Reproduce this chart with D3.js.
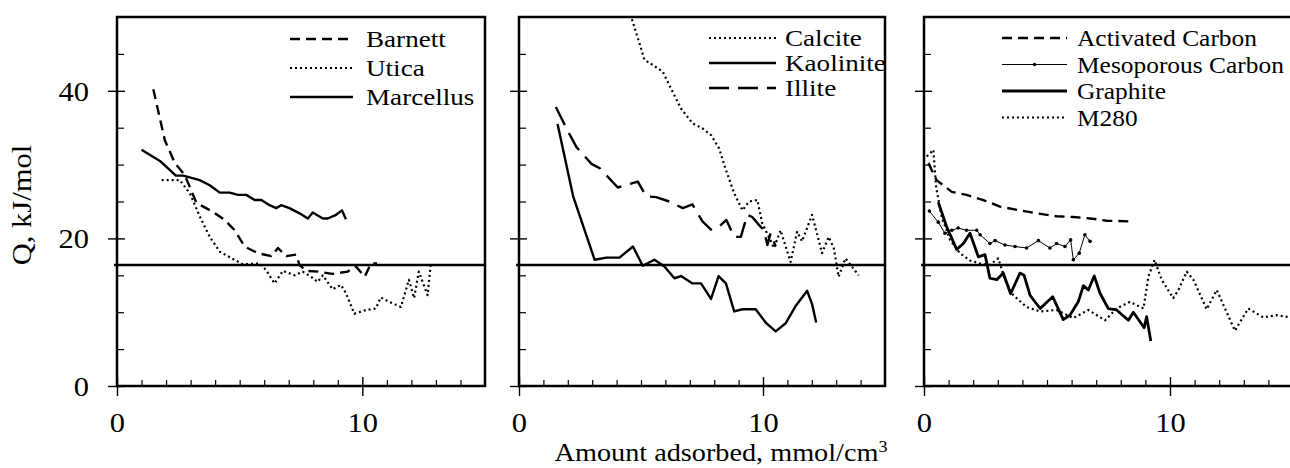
<!DOCTYPE html>
<html>
<head>
<meta charset="utf-8">
<script src="https://cdn.jsdelivr.net/npm/d3@7"></script>
<style>
  html, body { margin: 0; padding: 0; background: #fff; }
  svg { display: block; font-family: "Liberation Serif", "Times New Roman", serif; }
</style>
</head>
<body>
<svg id="chart" width="1290" height="468"></svg>
<script>
// ---- data: [amount adsorbed, Q] ----
const barnett = [[1.48,40.2],[1.95,33.3],[2.36,30.2],[2.76,28.6],[3.24,24.8],[3.91,23.6],[4.39,22.5],[4.8,21.1],[5.2,18.9],[5.74,18.0],[6.29,17.6],[6.56,18.7],[6.9,17.6],[7.3,17.8],[7.44,16.4],[7.71,15.6],[8.2,15.5],[8.78,15.2],[9.4,15.5],[9.74,16.2],[10.1,14.8],[10.35,16.6],[10.6,16.6]];
const utica = [[1.82,27.9],[2.56,27.9],[2.97,26.1],[3.37,23.0],[3.78,20.2],[4.19,18.2],[4.73,17.2],[5.13,16.5],[5.81,16.6],[6.08,15.7],[6.42,13.9],[6.76,15.6],[7.24,15.0],[7.57,15.5],[7.91,14.8],[8.18,14.1],[8.39,15.0],[8.79,13.1],[9.13,13.7],[9.33,12.6],[9.67,9.8],[10.15,10.3],[10.55,10.5],[10.75,12.0],[11.1,11.4],[11.57,10.7],[11.9,14.4],[12.11,11.9],[12.3,15.5],[12.66,12.3],[12.79,16.6]];
const marcellus = [[1.0,32.0],[1.75,30.5],[2.4,28.5],[2.7,28.5],[3.37,27.9],[3.78,27.2],[4.19,26.2],[4.59,26.2],[4.93,25.9],[5.27,25.9],[5.61,25.2],[5.88,25.2],[6.22,24.5],[6.49,24.1],[6.69,24.5],[7.03,24.1],[7.44,23.4],[7.78,22.7],[7.98,23.5],[8.39,22.7],[8.59,22.7],[8.93,23.2],[9.17,23.8],[9.33,22.6]];

const calcite = [[4.4,53],[4.6,50.0],[4.94,46.4],[5.14,44.2],[5.48,43.5],[5.89,42.6],[6.23,40.3],[6.64,37.6],[7.11,35.6],[7.52,34.9],[7.87,34.0],[8.2,32.2],[8.48,29.3],[8.82,26.1],[9.16,23.8],[9.43,25.0],[9.77,25.2],[9.97,22.0],[10.24,20.2],[10.45,18.7],[10.72,21.1],[11.13,16.8],[11.4,20.9],[11.6,19.6],[12.01,23.2],[12.42,18.0],[12.69,20.2],[12.9,18.7],[13.1,14.8],[13.38,17.3],[13.92,15.0]];
const kaolinite = [[1.58,35.5],[2.22,25.7],[3.1,17.1],[3.58,17.4],[4.12,17.4],[4.67,18.9],[5.07,16.3],[5.55,17.1],[5.96,16.2],[6.37,14.6],[6.64,14.9],[7.11,13.9],[7.46,13.9],[7.87,11.8],[8.18,14.9],[8.48,13.9],[8.82,10.1],[9.16,10.4],[9.7,10.4],[10.11,8.6],[10.52,7.4],[10.93,8.5],[11.33,10.8],[11.81,12.9],[12.01,11.1],[12.18,8.6]];
const illite = [[1.51,37.8],[2.01,34.5],[2.35,32.4],[2.97,30.1],[3.31,29.5],[4.05,26.9],[4.87,27.7],[5.21,25.7],[5.62,25.6],[6.16,25.0],[6.71,24.1],[7.11,24.6],[7.52,22.3],[7.87,21.2],[8.2,21.6],[8.5,22.5],[8.82,20.2],[9.09,20.2],[9.36,23.2],[9.56,22.9],[9.84,21.8],[10.04,21.1],[10.18,19.1],[10.31,20.7],[10.52,18.9]];

const activatedCarbon = [[0.18,30.2],[0.51,27.9],[1.13,26.3],[1.73,25.9],[2.41,25.2],[3.09,24.3],[3.9,23.8],[4.58,23.4],[5.39,23.0],[6.07,22.9],[6.75,22.7],[7.43,22.4],[8.37,22.3]];
const mesoporousCarbon = [[0.22,23.7],[0.58,22.2],[0.85,20.7],[1.13,21.1],[1.39,21.4],[1.73,21.1],[2.14,21.1],[2.28,20.5],[2.68,19.3],[2.89,19.7],[3.29,19.1],[3.7,18.9],[4.17,18.7],[4.65,19.7],[5.12,18.7],[5.39,19.3],[5.73,18.9],[5.96,19.8],[6.07,17.1],[6.31,18.0],[6.54,20.5],[6.75,19.6]];
const graphite = [[0.58,24.9],[0.92,21.6],[1.33,18.5],[1.6,19.3],[1.87,20.7],[2.21,17.5],[2.48,17.8],[2.68,14.6],[2.96,14.4],[3.22,15.3],[3.52,12.5],[3.9,15.3],[4.07,15.0],[4.31,12.3],[4.72,10.5],[5.23,12.1],[5.66,9.0],[5.93,9.6],[6.27,11.4],[6.48,13.6],[6.68,13.0],[6.92,14.9],[7.15,12.6],[7.49,10.5],[7.83,10.3],[8.31,8.9],[8.51,10.0],[8.95,7.9],[9.05,9.4],[9.22,6.1]];
const m280 = [[0.11,31.1],[0.24,31.5],[0.38,32.0],[0.49,27.0],[0.72,22.9],[1.06,19.8],[1.46,18.0],[1.87,17.0],[2.28,16.6],[2.68,16.4],[3.02,17.3],[3.29,14.4],[3.63,12.3],[4.17,10.7],[4.72,10.1],[5.39,10.3],[6.07,9.2],[6.68,10.3],[7.36,8.9],[7.83,10.5],[8.37,11.4],[8.92,10.5],[9.12,14.8],[9.37,17.1],[9.66,14.4],[10.13,11.9],[10.34,13.0],[10.68,15.5],[10.95,14.4],[11.49,10.4],[11.9,13.0],[12.64,7.5],[13.18,10.5],[13.79,9.3],[14.34,9.6],[14.88,9.3]];

const referenceQ = 16.4;
const xMajorTicks = [0, 10];
const xMinorTicks = [1, 2, 3, 4, 5, 6, 7, 8, 9, 11, 12, 13, 14];
const yMajorTicks = [0, 20, 40];
const yMinorTicks = [5, 10, 15, 25, 30, 35, 45];

// line styles
const styles = {
  dash:     { dash: "10,6", width: 2.4 },
  dot:      { dash: "2,3", width: 2.2 },
  solid:    { dash: null, width: 2.4 },
  longdash: { dash: "20,9", width: 2.4 },
  thin:     { dash: null, width: 1, dots: true },
  thick:    { dash: null, width: 2.8 }
};

const panels = [
  { left: 117, width: 368, yLabels: true, legend: { x1: 290, x2: 353, tx: 366, rows: [39, 68, 97], size: 24 },
    series: [
      { name: "Barnett", data: barnett, style: "dash" },
      { name: "Utica", data: utica, style: "dot" },
      { name: "Marcellus", data: marcellus, style: "solid" }
    ] },
  { left: 519, width: 366, yLabels: false, legend: { x1: 709, x2: 776, tx: 785, rows: [38, 63, 88], size: 24 },
    series: [
      { name: "Calcite", data: calcite, style: "dot" },
      { name: "Kaolinite", data: kaolinite, style: "solid" },
      { name: "Illite", data: illite, style: "longdash" }
    ] },
  { left: 924, width: 369, yLabels: false, legend: { x1: 1002, x2: 1067, tx: 1077, rows: [38, 64.5, 91, 117.5], size: 22.5 },
    series: [
      { name: "Activated Carbon", data: activatedCarbon, style: "dash" },
      { name: "Mesoporous Carbon", data: mesoporousCarbon, style: "thin" },
      { name: "Graphite", data: graphite, style: "thick" },
      { name: "M280", data: m280, style: "dot" }
    ] }
];

const plotTop = 17;
const H = 369;
const stretch = 1.13; // the reference type is a little wider than normal

const svg = d3.select("#chart");

function applyStyle(sel, s) {
  sel.attr("fill", "none")
    .attr("stroke", "#000")
    .attr("stroke-width", s.width)
    .attr("stroke-linejoin", "round");
  if (s.dash) sel.attr("stroke-dasharray", s.dash);
  return sel;
}

panels.forEach((p, i) => {
  const x = d3.scaleLinear().domain([0, 15]).range([0, p.width]);
  const y = d3.scaleLinear().domain([0, 50]).range([H, 0]);

  const g = svg.append("g").attr("transform", `translate(${p.left},${plotTop})`);

  g.append("clipPath").attr("id", "clip" + i)
    .append("rect").attr("x", 0).attr("y", 0).attr("width", p.width).attr("height", H);

  // minor ticks, pointing inward
  g.append("g").attr("transform", `translate(0,${H})`)
    .call(d3.axisBottom(x).tickValues(xMinorTicks).tickSize(-6).tickFormat(""))
    .call(a => a.select(".domain").remove())
    .call(a => a.selectAll("line").attr("stroke-width", 1.2));

  g.append("g")
    .call(d3.axisLeft(y).tickValues(yMinorTicks).tickSize(-7).tickFormat(""))
    .call(a => a.select(".domain").remove())
    .call(a => a.selectAll("line").attr("stroke-width", 1.2));

  // major ticks crossing the axis
  const xMaj = g.append("g").attr("transform", `translate(0,${H})`)
    .call(d3.axisBottom(x).tickValues(xMajorTicks).tickSize(10).tickFormat(d3.format("d")))
    .call(a => a.select(".domain").remove());
  xMaj.selectAll("line").attr("y1", -9).attr("stroke-width", 1.4);
  xMaj.selectAll("text")
    .attr("y", 0).attr("dy", 0)
    .attr("transform", `translate(0,46) scale(${stretch},1)`)
    .attr("font-size", 27).attr("font-family", "Liberation Serif").attr("fill", "#000");

  const yMaj = g.append("g")
    .call(d3.axisLeft(y).tickValues(yMajorTicks).tickSize(9).tickFormat(p.yLabels ? d3.format("d") : ""))
    .call(a => a.select(".domain").remove());
  yMaj.selectAll("line").attr("x1", 8).attr("stroke-width", 1.4);
  yMaj.selectAll("text")
    .attr("x", 0).attr("dy", "0.35em")
    .attr("transform", `translate(-28,0) scale(${stretch},1)`)
    .attr("font-size", 27).attr("font-family", "Liberation Serif").attr("fill", "#000");

  // reference line
  g.append("line")
    .attr("x1", -3).attr("x2", p.width)
    .attr("y1", y(referenceQ)).attr("y2", y(referenceQ))
    .attr("stroke", "#000").attr("stroke-width", 2.4);

  // series
  const line = d3.line().x(d => x(d[0])).y(d => y(d[1]));
  const plot = g.append("g").attr("clip-path", `url(#clip${i})`);
  p.series.forEach(s => {
    const st = styles[s.style];
    applyStyle(plot.append("path").datum(s.data).attr("d", line), st);
    if (st.dots) {
      plot.selectAll(null).data(s.data).enter().append("circle")
        .attr("cx", d => x(d[0])).attr("cy", d => y(d[1])).attr("r", 1.8).attr("fill", "#000");
    }
  });

  // frame
  g.append("rect")
    .attr("x", 0).attr("y", 0).attr("width", p.width).attr("height", H)
    .attr("fill", "none").attr("stroke", "#000").attr("stroke-width", 2.5);

  // legend
  const lg = svg.append("g");
  p.series.forEach((s, k) => {
    const ry = p.legend.rows[k];
    const st = styles[s.style];
    applyStyle(lg.append("line")
      .attr("x1", p.legend.x1).attr("x2", p.legend.x2).attr("y1", ry).attr("y2", ry), st);
    if (st.dots) {
      lg.append("circle").attr("cx", (p.legend.x1 + p.legend.x2) / 2).attr("cy", ry).attr("r", 1.8).attr("fill", "#000");
    }
    lg.append("text")
      .attr("transform", `translate(${p.legend.tx},${ry + 8}) scale(${stretch},1)`)
      .attr("font-size", p.legend.size)
      .attr("fill", "#000")
      .text(s.name);
  });
});

// axis titles
svg.append("text")
  .attr("transform", `translate(31,205) rotate(-90) scale(${stretch},1)`)
  .attr("text-anchor", "middle")
  .attr("font-size", 27)
  .text("Q, kJ/mol");

const xt = svg.append("text")
  .attr("transform", `translate(721,461) scale(${stretch},1)`)
  .attr("text-anchor", "middle")
  .attr("font-size", 25);
xt.append("tspan").text("Amount adsorbed, mmol/cm");
xt.append("tspan").attr("font-size", 16).attr("dy", -9).text("3");
</script>
</body>
</html>
